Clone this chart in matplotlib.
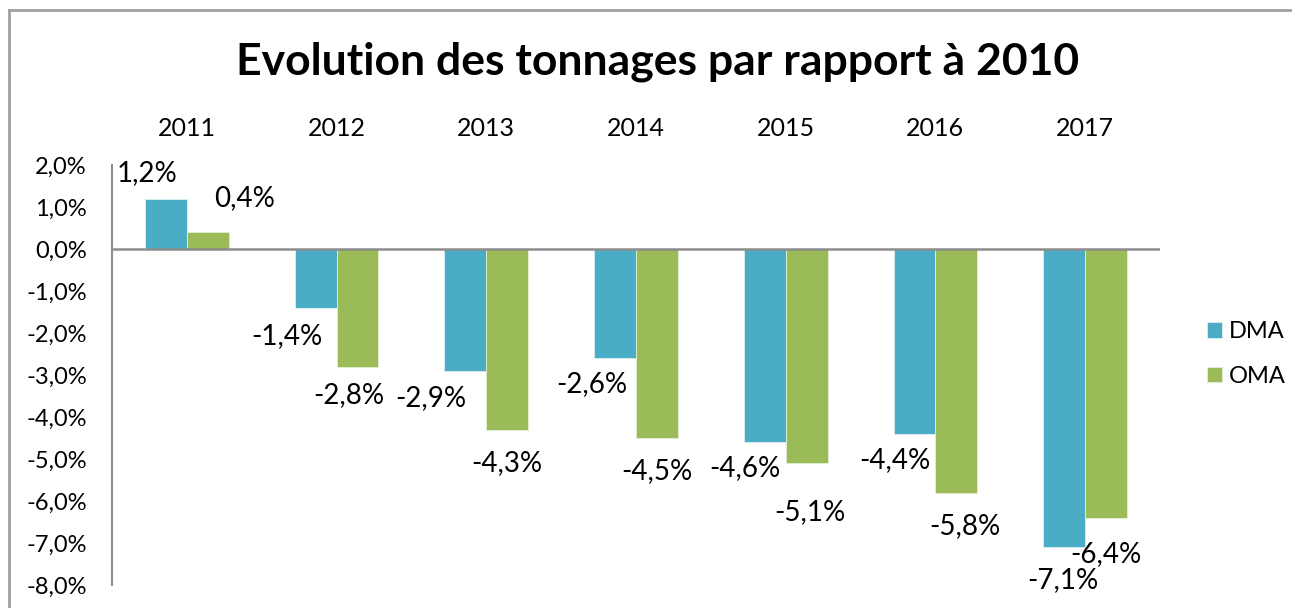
import matplotlib
matplotlib.use("Agg")
import matplotlib.pyplot as plt
from matplotlib.lines import Line2D
import numpy as np

plt.rcParams['font.family'] = ['Lato', 'DejaVu Sans']

years = ["2011", "2012", "2013", "2014", "2015", "2016", "2017"]
dma = [1.2, -1.4, -2.9, -2.6, -4.6, -4.4, -7.1]
oma = [0.4, -2.8, -4.3, -4.5, -5.1, -5.8, -6.4]
series_names = ["DMA", "OMA"]
yticks = [2, 1, 0, -1, -2, -3, -4, -5, -6, -7, -8]

# label offsets in pixels (dx, dy) relative to bar end
dma_off = [(-19, 26), (-29, -28), (-35, -27), (-23, -26), (-20, -26), (-20, -26), (-1, -33)]
oma_off = [(37, 34), (-9, -28), (0, -33), (0, -33), (3, -49), (8, -33), (0, -36)]

C_DMA = "#4BACC6"
C_OMA = "#9BBB59"
GRAY = "#8C8C8C"

W, H = 1292, 608
fig = plt.figure(figsize=(W / 100, H / 100), dpi=100)
ax = fig.add_axes([112 / W, 1 - 585 / H, (1160 - 112) / W, (585 - 165) / H])

x = np.arange(len(years))
bw = 0.28
b1 = ax.bar(x - bw / 2, dma, bw, color=C_DMA, edgecolor="#DDEFF4", linewidth=0.6, label=series_names[0])
b2 = ax.bar(x + bw / 2, oma, bw, color=C_OMA, edgecolor="#E6EFD6", linewidth=0.6, label=series_names[1])

def fmt(v):
    return f"{v:.1f}%".replace(".", ",")

for xi, v, off in zip(x - bw / 2, dma, dma_off):
    ax.annotate(fmt(v), (xi, v), xytext=off, textcoords="offset pixels",
                ha="center", va="center", fontsize=20, color="black")
for xi, v, off in zip(x + bw / 2, oma, oma_off):
    ax.annotate(fmt(v), (xi, v), xytext=off, textcoords="offset pixels",
                ha="center", va="center", fontsize=20, color="black")

ax.set_xlim(-0.5, len(years) - 0.5)
ax.set_ylim(-8, 2)
ax.set_yticks(yticks)
ax.set_yticklabels([fmt(t) for t in yticks], fontsize=17)
ax.xaxis.tick_top()
ax.set_xticks(x)
ax.set_xticklabels(years, fontsize=18)
ax.tick_params(axis="both", length=0)
ax.tick_params(axis="x", pad=18)
ax.tick_params(axis="y", pad=18)

for s in ["top", "right", "bottom"]:
    ax.spines[s].set_visible(False)
ax.spines["left"].set_color(GRAY)
ax.spines["left"].set_linewidth(1.5)
ax.axhline(0, color=GRAY, linewidth=1.8, zorder=3)

fig.text(658 / W, 1 - 62 / H, "Evolution des tonnages par rapport à 2010",
         ha="center", va="center", fontsize=32, fontweight="bold")

leg = fig.legend(handles=[b1, b2], labels=series_names, loc="center left",
                 bbox_to_anchor=(1195 / W, 1 - 354 / H), frameon=False,
                 fontsize=17, handlelength=0.65, handleheight=0.65,
                 handletextpad=0.3, labelspacing=1.0, borderpad=0)

# outer chart border
fig.add_artist(Line2D([9 / W, 9 / W], [0, 1 - 10 / H], color="#A0A0A0", linewidth=2, transform=fig.transFigure))
fig.add_artist(Line2D([9 / W, 1], [1 - 10 / H, 1 - 10 / H], color="#A0A0A0", linewidth=2, transform=fig.transFigure))

fig.savefig("out.png", dpi=100)
